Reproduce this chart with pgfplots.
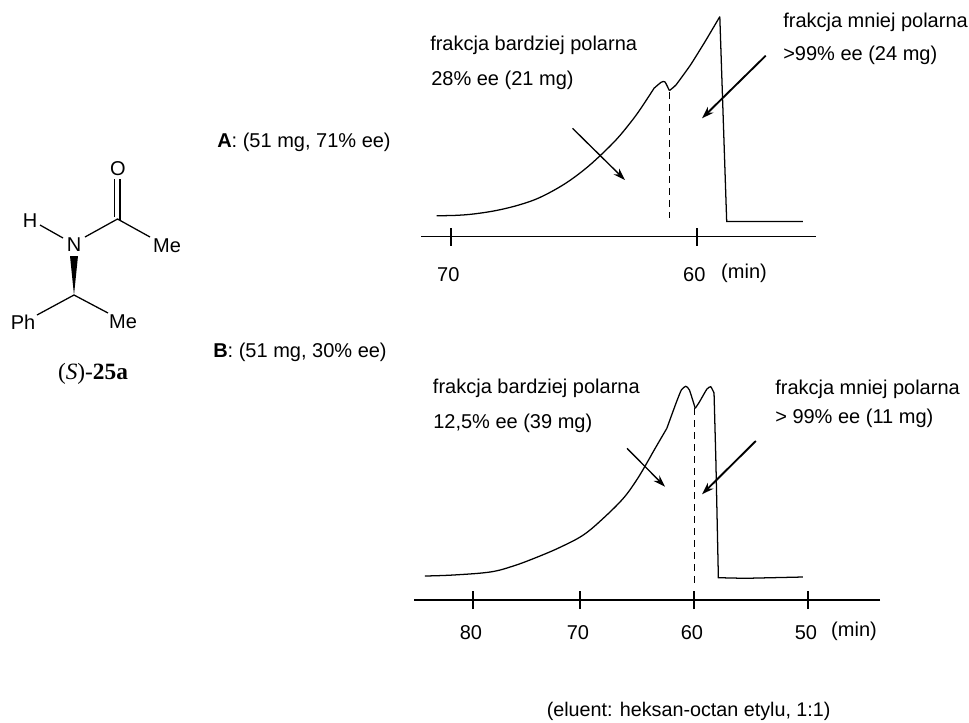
\documentclass[border=0pt]{standalone}
\usepackage{fontspec}
\setmainfont{Liberation Sans}
\newfontfamily\serifchem{Liberation Serif}
\usepackage{pgfplots}
\pgfplotsset{compat=1.18}
\usetikzlibrary{arrows.meta}
\newcommand{\tf}{\fontsize{15}{18}\selectfont}
\pgfplotsset{chrom/.style={
  scale only axis, clip=false,
  axis x line=bottom, axis y line=none,
  axis line style={-, line width=0.95pt, black},
  x dir=reverse,
  major tick length=13.5pt, tick align=center,
  tick style={black, line width=1.2pt},
  ymin=0,
}}
\tikzset{
  curve/.style={black, line width=0.95pt},
  fracarrow/.style={black, line width=1pt, -{Stealth[length=9pt,width=6pt]}},
  fracarrowb/.style={black, line width=1.4pt, -{Stealth[length=9pt,width=6pt]}},
  txt/.style={font=\tf, anchor=west, inner sep=0pt, black},
  lab/.style={font=\tf, anchor=center, inner sep=0pt, black},
}
\begin{document}
\begin{tikzpicture}
\begin{scope}[x=0.75pt,y=-0.75pt]
\fill[white] (0,0) rectangle (969,722);
\path[use as bounding box] (0,0) rectangle (969,722);
\end{scope}

% Chromatogram A: 70 min at x=451 px, 60 min at x=697 px
\begin{axis}[chrom,
  at={(315.5pt,-177.5pt)}, anchor=south west,
  width=296.3pt, height=177.5pt,
  xmin=55.17, xmax=71.23, ymax=237,
  xtick={70,60}, xticklabels={70,60},
  x tick label style={font=\tf, yshift=-12.5pt, xshift=-2pt},
]
\addplot[curve, smooth, tension=0.6] coordinates {
 (70.58,21) (69.84,21.3) (69.09,22.7) (68.14,26.3) (67.20,32) (66.38,39.3)
 (65.43,52) (64.62,66.3) (63.94,81) (63.26,97.7) (62.72,113.7) (62.32,127)
 (61.74,148.7)};
\addplot[curve, smooth, tension=0.35] coordinates {
 (61.74,148.7) (61.45,154.7) (61.30,155) (61.12,146.3)};
\addplot[curve, smooth, tension=0.25] coordinates {
 (61.12,146.3) (60.85,152) (60.26,172) (59.67,195.3) (59.07,220.3)};
\addplot[curve] coordinates {(59.07,220.3) (58.79,15.3) (55.69,15.3)};
\addplot[black, line width=0.95pt, dash pattern=on 5pt off 4pt] coordinates {(61.12,145) (61.12,19)};
\end{axis}

% Chromatogram B: 60 min at x=694 px, 50 min at x=808 px
\begin{axis}[chrom,
  at={(310.35pt,-450pt)}, anchor=south west,
  width=349.65pt, height=180pt,
  xmin=43.68, xmax=84.58, ymax=240,
  xtick={79.39,70,60,50}, xticklabels={80,70,\raisebox{2.2pt}{60},50},
  x tick label style={font=\tf, yshift=-8.75pt, xshift=-1.5pt},
]
\addplot[curve, smooth, tension=0.6] coordinates {
 (83.60,24) (81.11,25) (77.89,28) (75.85,34) (73.80,42.7) (71.75,52.7)
 (69.71,65) (67.96,81.7) (66.20,101.7) (65.03,120) (64.15,136.7) (63.49,150)
 (62.38,171.7)};
\addplot[curve, smooth, tension=0.35] coordinates {
 (62.38,171.7) (61.58,196.7) (61.11,210) (60.72,213.7) (60.40,210) (59.89,191.7)};
\addplot[curve, smooth, tension=0.35] coordinates {
 (59.89,191.7) (59.51,198.3) (58.88,210.7) (58.53,213.3) (58.24,207)};
\addplot[curve] coordinates {(58.24,207) (58.08,140) (57.86,22.3) (55.53,21.7) (50.44,23)};
\addplot[black, line width=0.95pt, dash pattern=on 5pt off 4pt] coordinates {(59.93,192) (59.93,16)};
\end{axis}

\begin{scope}[x=0.75pt,y=-0.75pt]
% arrows
\draw[fracarrow] (572.5,128.3) -- (625,180);
\draw[fracarrowb] (765.7,55.7) -- (702,118.3);
\draw[fracarrow] (627,448.3) -- (665,486.7);
\draw[fracarrowb] (755.8,441) -- (702,494.3);
% chart text
\node[txt] at (430,45) {frakcja bardziej polarna};
\node[txt] at (431,80) {28\% ee (21 mg)};
\node[txt] at (783,22) {frakcja mniej polarna};
\node[txt] at (783,55) {>99\% ee (24 mg)};
\node[lab] at (744,273) {(min)};
\node[txt] at (432.7,388) {frakcja bardziej polarna};
\node[txt] at (433,423) {12,5\% ee (39 mg)};
\node[txt] at (775,389) {frakcja mniej polarna};
\node[txt] at (775,418) {> 99\% ee (11 mg)};
\node[lab] at (854,631) {(min)};
\node[txt, font=\fontsize{14.8}{18}\selectfont] at (546.5,711) {(eluent: heksan-octan etylu, 1:1)};
\node[txt] at (217,142) {\textbf{A}: (51 mg, 71\% ee)};
\node[txt] at (213,352) {\textbf{B}: (51 mg, 30\% ee)};
% structure
\node[lab] at (118,169) {O};
\node[lab] at (30,221) {H};
\node[lab] at (74,245) {N};
\node[lab] at (167,246) {Me};
\node[lab] at (23,322) {Ph};
\node[lab] at (123,322) {Me};
\draw[curve] (114.5,179) -- (114.5,217);
\draw[curve] (120,179) -- (120,220);
\draw[curve] (40,225) -- (63,238);
\draw[curve] (85,237) -- (117.5,219) -- (150,237);
\fill[black] (70,256) -- (78,256) -- (74,295) -- cycle;
\draw[curve] (37,315) -- (74,295) -- (108,313);
\node[font={\serifchem\fontsize{17.5}{20}\selectfont}, anchor=center, inner sep=0pt] at (93,373.5) {(\textit{S})-\textbf{25a}};
\end{scope}
\end{tikzpicture}
\end{document}
